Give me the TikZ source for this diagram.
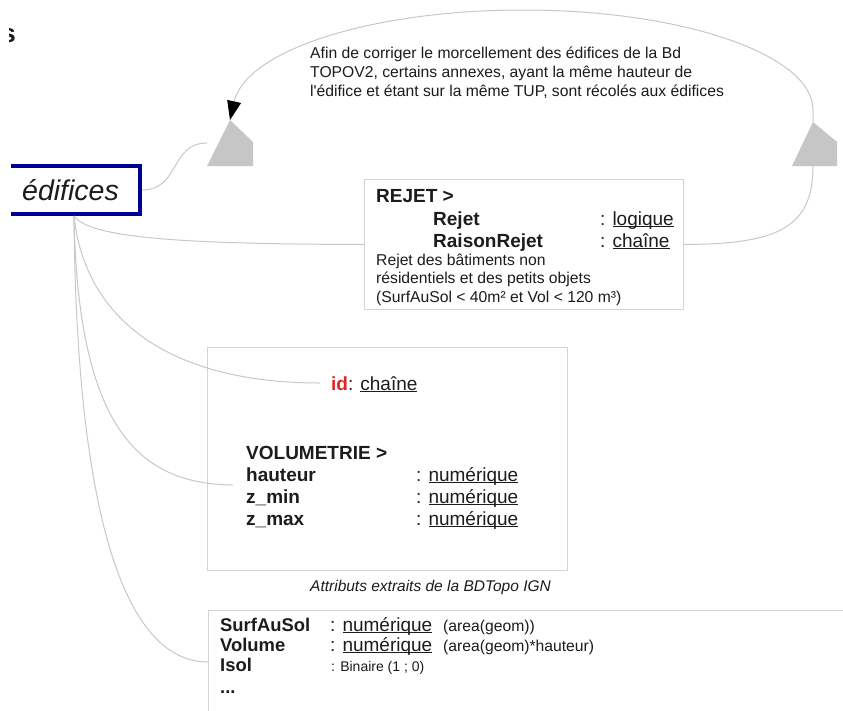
\documentclass[tikz,border=0pt]{standalone}
\usepackage{fontspec}
\setmainfont{Liberation Sans}
\usetikzlibrary{arrows.meta}
\definecolor{navy}{RGB}{0,0,150}
\definecolor{ln}{RGB}{200,200,200}
\definecolor{bx}{RGB}{212,212,212}
\definecolor{tri}{RGB}{198,198,198}
\definecolor{tx}{RGB}{28,28,28}
\definecolor{idred}{RGB}{226,36,36}
\newcommand\ulx[1]{\setbox0\hbox{#1}\rlap{\rule[-1.9pt]{\wd0}{0.9pt}}\box0}
\begin{document}
\begin{tikzpicture}[x=1pt,y=-1pt,
  conn/.style={draw=ln, line width=1pt},
  boxn/.style={draw=bx, line width=1pt, fill=white, inner sep=0pt, anchor=north west},
  tb/.style={anchor=base west, inner sep=0pt, text=tx, font=\fontsize{19}{22}\selectfont},
  ts/.style={anchor=base west, inner sep=0pt, text=tx, font=\fontsize{15.7}{19}\selectfont}]
\useasboundingbox[fill=white] (0,0) rectangle (843,710);

% boxes
\node[boxn, minimum width=319pt, minimum height=130pt] (rej) at (364,179) {};
\node[boxn, minimum width=360pt, minimum height=223pt] (vol) at (207,347) {};
\node[boxn, minimum width=700pt, minimum height=150pt] (attr) at (208,610) {};

% cropped fragment top-left
\begin{scope}
  \clip (9.5,0) rectangle (40,60);
  \node[anchor=base east, inner sep=0pt, text=tx, font=\bfseries\fontsize{26}{26}\selectfont] (frag) at (16,42) {s};
\end{scope}

% edifices box
\begin{scope}
  \clip (11,0) rectangle (843,710);
  \draw[navy, line width=4pt, fill=white] (-10,166) rectangle (140,213.5);
\end{scope}
\node[anchor=base west, inner sep=0pt, text=tx, font=\itshape\fontsize{28.5}{30}\selectfont] (ed) at (22,200) {édifices};

% triangles
\fill[tri] (207,166) -- (230,120) -- (253,142) -- (253,166) -- cycle;
\fill[tri] (792,166) -- (813,122) -- (837,142) -- (837,166) -- cycle;
\coordinate (la) at (230,120);
\coordinate (ra) at (813,122);
\coordinate (rb) at (813,166);
\coordinate (ll) at (207,143);
\coordinate (edr) at (142,190);
\coordinate (o) at (74,216);
\coordinate (e2) at (320,383);
\coordinate (e3) at (233,485);
\coordinate (e4) at (208,662);

% big arc with arrow
\draw[conn, -{Triangle[length=19pt,width=14pt,color=black]}] (ra) -- (813,110)
  arc[start angle=0, end angle=174.3, x radius=290pt, y radius=100pt] -- (la);

% connectors
\draw[conn] (edr) .. controls (180,190) and (170,143) .. (ll);
\draw[conn] (rb) .. controls (813,228) and (778,244) .. (rej.east);
\draw[conn] (o) .. controls (90,238) and (180,244) .. (rej.west);
\draw[conn] (o) .. controls (85,320) and (170,383) .. (e2);
\draw[conn] (o) .. controls (78,430) and (140,484) .. (e3);
\draw[conn] (o) .. controls (76,480) and (115,662) .. (e4);

% top text
\node[ts] (t1) at (310,58) {Afin de corriger le morcellement des édifices de la Bd};
\node[ts] (t2) at (310,77.5) {TOPOV2, certains annexes, ayant la même hauteur de};
\node[ts] (t3) at (310,96.5) {l\textquotesingle édifice et étant sur la même TUP, sont récolés aux édifices};

% REJET box text
\node[tb, font=\bfseries\fontsize{19}{22}\selectfont] (r0) at (376,202.5) {REJET >};
\node[tb, font=\bfseries\fontsize{19}{22}\selectfont] (r1) at (433,225.3) {Rejet};
\node[tb] (r1t) at (600,225.3) {: \ulx{logique}};
\node[tb, font=\bfseries\fontsize{19}{22}\selectfont] (r2) at (433,247.3) {RaisonRejet};
\node[tb] (r2t) at (600,247.3) {: \ulx{chaîne}};
\node[ts] (r3) at (376,265.5) {Rejet des bâtiments non};
\node[ts] (r4) at (376,283.5) {résidentiels et des petits objets};
\node[ts] (r5) at (376,302) {(SurfAuSol < 40m² et Vol < 120 m³)};

% VOLUMETRIE box text
\node[tb] (idt) at (331,390) {\textcolor{idred}{\bfseries id}: \ulx{chaîne}};
\node[tb, font=\bfseries\fontsize{19}{22}\selectfont] (v0) at (246,459.3) {VOLUMETRIE >};
\node[tb, font=\bfseries\fontsize{19}{22}\selectfont] (v1) at (246,481) {hauteur};
\node[tb] (v1t) at (416,481) {: \ulx{numérique}};
\node[tb, font=\bfseries\fontsize{19}{22}\selectfont] (v2) at (246,503) {z\_min};
\node[tb] (v2t) at (416,503) {: \ulx{numérique}};
\node[tb, font=\bfseries\fontsize{19}{22}\selectfont] (v3) at (246,525) {z\_max};
\node[tb] (v3t) at (416,525) {: \ulx{numérique}};
\node[ts, font=\itshape\fontsize{15.5}{19}\selectfont] (cap) at (310,591) {Attributs extraits de la BDTopo IGN};

% attributes box text
\node[tb, font=\bfseries\fontsize{18.4}{22}\selectfont] (a1) at (220,631) {SurfAuSol};
\node[tb] (a1t) at (330,631) {: \ulx{numérique}};
\node[ts] (a1p) at (443,631) {(area(geom))};
\node[tb, font=\bfseries\fontsize{18.4}{22}\selectfont] (a2) at (220,651) {Volume};
\node[tb] (a2t) at (330,651) {: \ulx{numérique}};
\node[ts] (a2p) at (443,651) {(area(geom)*hauteur)};
\node[tb, font=\bfseries\fontsize{18.4}{22}\selectfont] (a3) at (220,671) {Isol};
\node[ts, font=\fontsize{14}{17}\selectfont] (a3t) at (331,671) {: Binaire (1 ; 0)};
\node[tb, font=\bfseries\fontsize{18.4}{22}\selectfont] (a4) at (220,693) {...};
\end{tikzpicture}
\end{document}
